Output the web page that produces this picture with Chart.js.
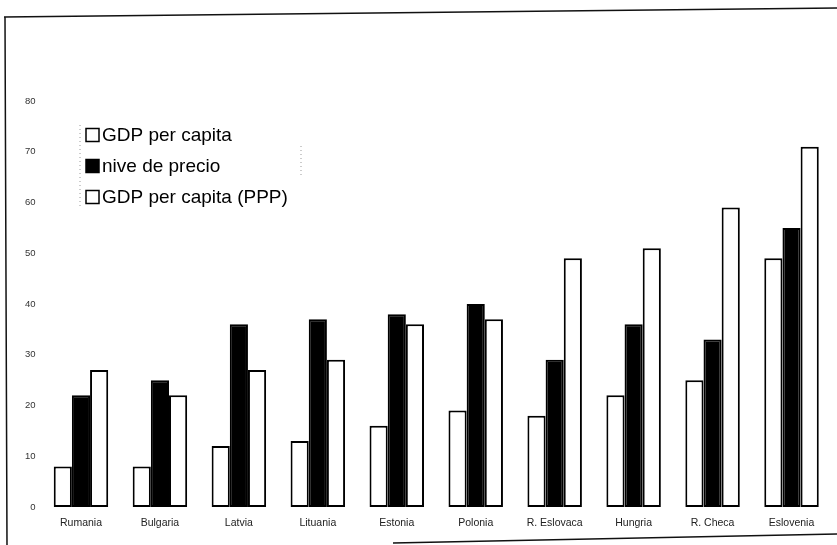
<!DOCTYPE html>
<html>
<head>
<meta charset="utf-8">
<script src="https://cdn.jsdelivr.net/npm/chart.js@4/dist/chart.umd.min.js"></script>
<style>
  html, body { margin: 0; padding: 0; background: #fff; }
  #wrap { position: relative; width: 837px; height: 545px; }
</style>
</head>
<body>
<div id="wrap"><canvas id="c" width="837" height="545"></canvas></div>
<script>
// Countries along the x axis
const categories = ['Rumania', 'Bulgaria', 'Latvia', 'Lituania', 'Estonia',
                    'Polonia', 'R. Eslovaca', 'Hungria', 'R. Checa', 'Eslovenia'];
// Series (index, EU = 100)
const gdpPerCapita    = [8, 8, 12, 13, 16, 19, 18, 22, 25, 49];
const nivelPrecio     = [22, 25, 36, 37, 38, 40, 29, 36, 33, 55];
const gdpPerCapitaPPP = [27, 22, 27, 29, 36, 37, 49, 51, 59, 71];
const seriesLabels = ['GDP per capita', 'nive de precio', 'GDP per capita (PPP)'];
const yTicks = [0, 10, 20, 30, 40, 50, 60, 70, 80];

// Page frame and the legend box inside the plot
const framePlugin = {
  id: 'frame',
  afterDraw(chart) {
    const ctx = chart.ctx;
    ctx.save();
    ctx.strokeStyle = '#111';
    ctx.lineWidth = 1.5;
    ctx.beginPath();
    ctx.moveTo(4, 17); ctx.lineTo(837, 8);
    ctx.moveTo(5, 17); ctx.lineTo(7, 545);
    ctx.moveTo(393, 543); ctx.lineTo(837, 534);
    ctx.stroke();

    // legend
    const ds = chart.data.datasets;
    const x0 = 86, y0 = 135, step = 31, sq = 13;
    ctx.font = '19px "Liberation Sans", Arial, sans-serif';
    ctx.textBaseline = 'middle';
    ctx.textAlign = 'left';
    ds.forEach((d, i) => {
      const y = y0 + i * step;
      ctx.fillStyle = d.backgroundColor;
      ctx.fillRect(x0, y - sq / 2, sq, sq);
      ctx.strokeStyle = '#000';
      ctx.lineWidth = 1.5;
      ctx.strokeRect(x0, y - sq / 2, sq, sq);
      ctx.fillStyle = '#000';
      ctx.fillText(d.label, x0 + 16, y + 1);
    });
    // faint dotted legend edges
    ctx.strokeStyle = '#999';
    ctx.lineWidth = 1;
    ctx.setLineDash([1, 3]);
    ctx.beginPath();
    ctx.moveTo(80, 125); ctx.lineTo(80, 208);
    ctx.moveTo(301, 146); ctx.lineTo(301, 178);
    ctx.stroke();
    ctx.restore();
  }
};

const barStyle = { borderColor: '#000', borderWidth: 2, borderSkipped: false,
                   barPercentage: 1.0, categoryPercentage: 0.69 };

new Chart(document.getElementById('c'), {
  type: 'bar',
  data: {
    labels: categories,
    datasets: [
      Object.assign({ label: seriesLabels[0], data: gdpPerCapita, backgroundColor: '#ffffff' }, barStyle),
      Object.assign({ label: seriesLabels[1], data: nivelPrecio, backgroundColor: '#000000' }, barStyle),
      Object.assign({ label: seriesLabels[2], data: gdpPerCapitaPPP, backgroundColor: '#ffffff' }, barStyle)
    ]
  },
  options: {
    responsive: false,
    animation: false,
    devicePixelRatio: 1,
    layout: { padding: { top: 101, right: 6, bottom: 0, left: 0 } },
    plugins: { legend: { display: false }, tooltip: { enabled: false } },
    scales: {
      x: {
        grid: { display: false, drawTicks: false },
        border: { display: false },
        ticks: { color: '#222', padding: 10,
                 font: { family: '"Liberation Sans", Arial, sans-serif', size: 10.5 } },
        afterFit(s) { s.height = 38; }
      },
      y: {
        min: 0, max: 80,
        afterBuildTicks(s) { s.ticks = yTicks.map(v => ({ value: v })); },
        grid: { display: false, drawTicks: false },
        border: { display: false },
        ticks: { color: '#333', padding: 6,
                 font: { family: '"Liberation Sans", Arial, sans-serif', size: 9.5 } },
        afterFit(s) { s.width = 41.5; }
      }
    }
  },
  plugins: [framePlugin]
});
</script>
</body>
</html>
